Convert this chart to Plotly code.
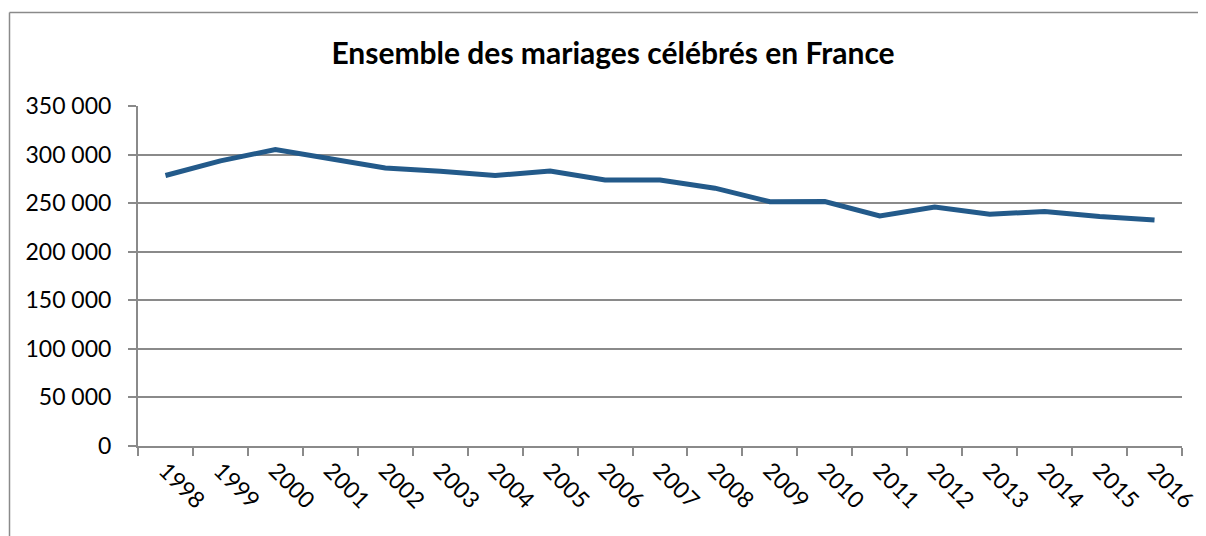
import plotly.graph_objects as go

years = [str(y) for y in range(1998, 2017)]
mariages = [278500, 293500, 305200, 295700, 286200, 282800, 278400, 283000, 273900,
            273700, 265400, 251500, 251700, 236800, 245900, 238600, 241300, 236300, 232700]
y_tickvals = [0, 50000, 100000, 150000, 200000, 250000, 300000, 350000]
y_ticktext = ["0", "50 000", "100 000", "150 000", "200 000", "250 000", "300 000", "350 000"]
title_text = "Ensemble des mariages célébrés en France"

# page body has an 8px margin; figure coordinates = screen - 8
OFF = 8
W, H = 1206 - OFF, 536 - OFF
L, T = 138 - OFF, 106 - OFF
R = W - (1182 - OFF)
B = H - (446 - OFF)
pw, ph = W - L - R, H - T - B

def px_x(x):
    return (x - OFF - L) / pw

def px_y(y):
    return (H - B - (y - OFF)) / ph

grid = "#8a8a8a"
font_family = "Lato, 'Open Sans', sans-serif"

fig = go.Figure()
fig.add_trace(go.Scatter(
    x=years, y=mariages, mode="lines",
    line=dict(color="#235a8a", width=5),
    hoverinfo="skip", showlegend=False,
))

border = dict(color="#8a8a8a", width=1.5)
fig.update_layout(
    width=W, height=H,
    margin=dict(l=L, r=R, t=T, b=B, autoexpand=False),
    paper_bgcolor="white", plot_bgcolor="white",
    font=dict(family=font_family, color="black", size=23),
    title=dict(text="<b>" + title_text + "</b>", x=(613 - OFF) / W, xanchor="center",
               y=1 - (53 - OFF) / H, yanchor="middle",
               font=dict(family=font_family, size=30, color="black")),
    xaxis=dict(
        type="category", range=[-0.5, len(years) - 0.5], automargin=False,
        showgrid=False, showline=True, linecolor=grid, linewidth=2,
        ticks="outside", ticklen=8, tickwidth=2, tickcolor=grid,
        tickson="boundaries", tickangle=45,
        tickfont=dict(size=23, family=font_family),
    ),
    yaxis=dict(
        range=[0, 350000], tickvals=y_tickvals, ticktext=y_ticktext, automargin=False,
        showgrid=True, gridcolor=grid, gridwidth=2,
        showline=True, linecolor=grid, linewidth=2,
        ticks="outside", ticklen=8, tickwidth=2, tickcolor=grid,
        ticklabelstandoff=12, zeroline=False,
        tickfont=dict(size=23, family=font_family),
    ),
    shapes=[
        dict(type="line", xref="paper", yref="paper",
             x0=px_x(9.5), x1=px_x(1240), y0=px_y(12.5), y1=px_y(12.5), line=border),
        dict(type="line", xref="paper", yref="paper",
             x0=px_x(9.5), x1=px_x(9.5), y0=px_y(12.5), y1=px_y(600), line=border),
    ],
)

fig.write_html("out.html")
